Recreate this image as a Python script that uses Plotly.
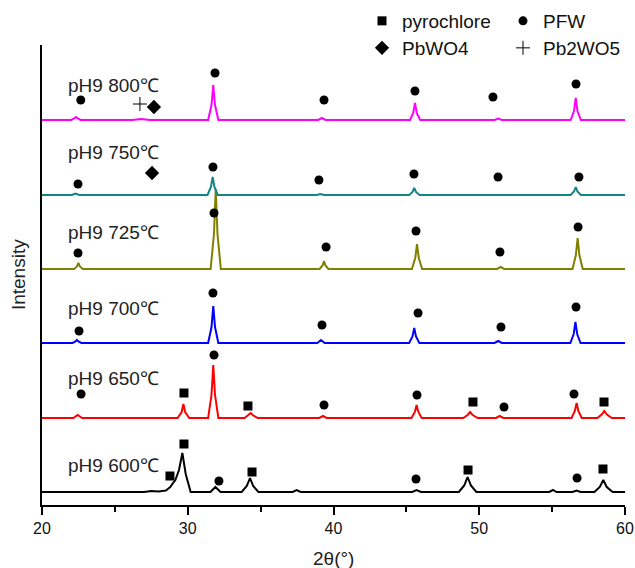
import plotly.graph_objects as go

# ---------------- data ----------------
samples = ["pH9 800℃", "pH9 750℃", "pH9 725℃", "pH9 700℃", "pH9 650℃", "pH9 600℃"]
offsets = [385, 310, 236, 162, 87, 13]

two_theta_800 = [20.0, 22.0, 22.2, 22.33, 22.45, 22.65, 26.2, 26.8, 27.4, 31.4, 31.63, 31.75, 31.87, 32.1,
                 38.95, 39.2, 39.45, 45.25, 45.47, 45.59, 45.71, 45.95, 51.05, 51.3, 51.55,
                 56.27, 56.5, 56.62, 56.74, 56.97, 60.0]
int_800 = [0, 0, 1.5, 3, 1.5, 0, 0, 1, 0, 0, 15, 35, 15, 0, 0, 2, 0, 0, 7, 17, 7, 0, 0, 1.5, 0,
           0, 9, 22, 9, 0, 0]

two_theta_750 = [20.0, 22.05, 22.3, 22.55, 31.36, 31.59, 31.71, 31.83, 32.06, 38.85, 39.1, 39.35,
                 45.2, 45.42, 45.54, 45.66, 45.9, 56.27, 56.5, 56.62, 56.74, 56.97, 60.0]
int_750 = [0, 0, 1.5, 0, 0, 8, 18, 8, 0, 0, 1, 0, 0, 3, 7, 3, 0, 0, 3.5, 8, 3.5, 0, 0]

two_theta_725 = [20.0, 22.2, 22.4, 22.5, 22.6, 22.8, 31.57, 31.8, 31.92, 32.04, 32.27,
                 39.05, 39.25, 39.35, 39.45, 39.65, 45.38, 45.61, 45.73, 45.85, 46.08,
                 51.22, 51.47, 51.72, 56.4, 56.63, 56.75, 56.87, 57.1, 60.0]
int_725 = [0, 0, 2.5, 6, 2.5, 0, 0, 35, 80, 35, 0, 0, 3.5, 8, 3.5, 0, 0, 11, 25, 11, 0,
           0, 2, 0, 0, 14, 31, 14, 0, 0]

two_theta_700 = [20.0, 22.1, 22.3, 22.4, 22.5, 22.7, 31.4, 31.63, 31.75, 31.87, 32.1,
                 38.89, 39.14, 39.39, 45.19, 45.42, 45.54, 45.66, 45.89, 51.05, 51.3, 51.55,
                 56.25, 56.48, 56.6, 56.72, 56.95, 60.0]
int_700 = [0, 0, 1.5, 3, 1.5, 0, 0, 16, 37, 16, 0, 0, 3, 0, 0, 6.5, 15, 6.5, 0, 0, 2, 0,
           0, 9, 21, 9, 0, 0]

two_theta_650 = [20.0, 22.15, 22.45, 22.75, 29.3, 29.58, 29.7, 29.82, 30.1, 31.4, 31.63, 31.75, 31.87, 32.1,
                 33.9, 34.15, 34.32, 34.5, 34.8, 39.03, 39.28, 39.53, 45.35, 45.58, 45.7, 45.82, 46.05,
                 48.9, 49.2, 49.37, 49.55, 49.9, 51.15, 51.4, 51.65, 56.33, 56.56, 56.68, 56.8, 57.03,
                 58.1, 58.4, 58.58, 58.76, 59.1, 60.0]
int_650 = [0, 0, 3, 0, 0, 6, 14, 6, 0, 0, 23, 53, 23, 0, 0, 2.5, 5, 2.5, 0, 0, 2, 0, 0, 6, 13, 6, 0,
           0, 3, 6, 3, 0, 0, 2, 0, 0, 7, 15, 7, 0, 0, 3.5, 7, 3.5, 0, 0]

two_theta_600 = [20.0, 27.0, 27.5, 28.0, 28.5, 28.8, 28.94, 29.15, 29.4, 29.63, 29.86, 30.2,
                 31.55, 31.9, 32.25, 33.7, 34.05, 34.27, 34.49, 34.85, 37.2, 37.47, 37.75,
                 45.4, 45.7, 46.0, 48.6, 48.97, 49.2, 49.43, 49.8, 54.8, 55.06, 55.3,
                 56.4, 56.68, 56.95, 57.9, 58.27, 58.51, 58.75, 59.15, 60.0]
int_600 = [0, 0, 1, 0.5, 1.5, 5, 8, 12, 22, 39, 18, 0, 0, 5, 0, 0, 6, 14, 6, 0, 0, 2, 0,
           0, 2, 0, 0, 6.5, 15, 6.5, 0, 0, 2, 0, 0, 1.5, 0, 0, 5, 12, 5, 0, 0]

# phase markers (2θ, stacked height)
pfw_x = [22.66, 31.87, 39.35, 45.59, 50.94, 56.64,
         22.47, 31.73, 39.0, 45.52, 51.29, 56.84,
         22.47, 31.80, 39.49, 45.66, 51.42, 56.78,
         22.54, 31.73, 39.21, 45.80, 51.49, 56.64,
         22.68, 31.80, 39.35, 45.73, 51.70, 56.50,
         32.14, 45.66, 56.71]
pfw_y = [405, 432, 405, 414, 408, 421,
         321, 338, 325, 331, 328, 328,
         252, 292, 258, 274, 253, 278,
         174, 212, 180, 192, 178, 198,
         111, 150, 100, 110, 98, 111,
         24, 26, 27]
pyro_x = [29.74, 34.13, 49.57, 58.56, 29.74, 28.78, 34.41, 49.23, 58.49]
pyro_y = [112, 99, 103, 103, 61, 29, 33, 35, 36]
pbwo4_x = [27.68, 27.55]
pbwo4_y = [398, 332]
pb2wo5_x = [26.72]
pb2wo5_y = [401]

# ---------------- figure ----------------
FONT = "Arial, Liberation Sans, sans-serif"
colors = ["#FF00FF", "#138585", "#808000", "#0000FF", "#FF0000", "#000000"]
xs = [two_theta_800, two_theta_750, two_theta_725, two_theta_700, two_theta_650, two_theta_600]
ys = [int_800, int_750, int_725, int_700, int_650, int_600]

fig = go.Figure()
# draw bottom-up so upper curves sit on top
for i in reversed(range(len(samples))):
    fig.add_trace(go.Scatter(
        x=xs[i], y=[offsets[i] + v for v in ys[i]], mode="lines",
        line=dict(color=colors[i], width=2), name=samples[i], showlegend=False,
        hoverinfo="skip"))

fig.add_trace(go.Scatter(x=pyro_x, y=pyro_y, mode="markers", name="pyrochlore",
                         marker=dict(symbol="square", size=9, color="black"), legend="legend"))
fig.add_trace(go.Scatter(x=pfw_x, y=pfw_y, mode="markers", name="PFW",
                         marker=dict(symbol="circle", size=9, color="black"), legend="legend"))
fig.add_trace(go.Scatter(x=pbwo4_x, y=pbwo4_y, mode="markers", name="PbWO4",
                         marker=dict(symbol="diamond", size=11, color="black"), legend="legend2"))
fig.add_trace(go.Scatter(x=pb2wo5_x, y=pb2wo5_y, mode="markers", name="Pb2WO5",
                         marker=dict(symbol="cross-thin-open", size=10, color="black",
                                     line=dict(color="black", width=1)), legend="legend2"))

label_y = [420, 353, 273, 197, 127, 40]
for name, yy in zip(samples, label_y):
    fig.add_annotation(x=21.65, y=yy, text=name, showarrow=False, xanchor="left", yanchor="middle",
                       font=dict(family=FONT, size=19, color="#222"))

fig.add_annotation(xref="paper", yref="paper", x=-0.041, y=0.5, text="Intensity", textangle=-90,
                   showarrow=False, xanchor="center", yanchor="middle",
                   font=dict(family=FONT, size=19, color="#222"))
fig.add_annotation(xref="paper", yref="paper", x=0.5, y=0, yshift=-53, text="2θ(°)",
                   showarrow=False, xanchor="center", yanchor="middle",
                   font=dict(family=FONT, size=19, color="#222"))

legend_common = dict(orientation="h", xanchor="left", yanchor="top", bgcolor="rgba(0,0,0,0)",
                     font=dict(family=FONT, size=19, color="#111"), entrywidth=96,
                     entrywidthmode="pixels", itemwidth=30, tracegroupgap=0)
fig.update_layout(
    width=635, height=568,
    margin=dict(l=42, r=10, t=45, b=63, autoexpand=False),
    plot_bgcolor="white", paper_bgcolor="white",
    font=dict(family=FONT, size=16, color="#111"),
    legend=dict(x=(362 - 42) / 583, y=1 + 43 / 460, **legend_common),
    legend2=dict(x=(362 - 42) / 583, y=1 + 16 / 460, **legend_common),
    xaxis=dict(range=[20, 60], showline=True, linecolor="black", linewidth=1.5,
               ticks="outside", ticklen=8, tickwidth=1.5, tickcolor="black", dtick=10, tick0=20,
               showgrid=False, zeroline=False, tickfont=dict(family=FONT, size=16, color="#111"),
               minor=dict(dtick=5, tick0=20, ticks="outside", ticklen=5, tickwidth=1.5,
                          tickcolor="black", showgrid=False)),
    yaxis=dict(range=[0, 460], showline=True, linecolor="black", linewidth=1.5,
               ticks="", showticklabels=False, showgrid=False, zeroline=False),
)
for tr in fig.data:
    tr.cliponaxis = False

fig.write_html("out.html", config={"displayModeBar": False},
               post_script="document.body.style.margin='0';")
